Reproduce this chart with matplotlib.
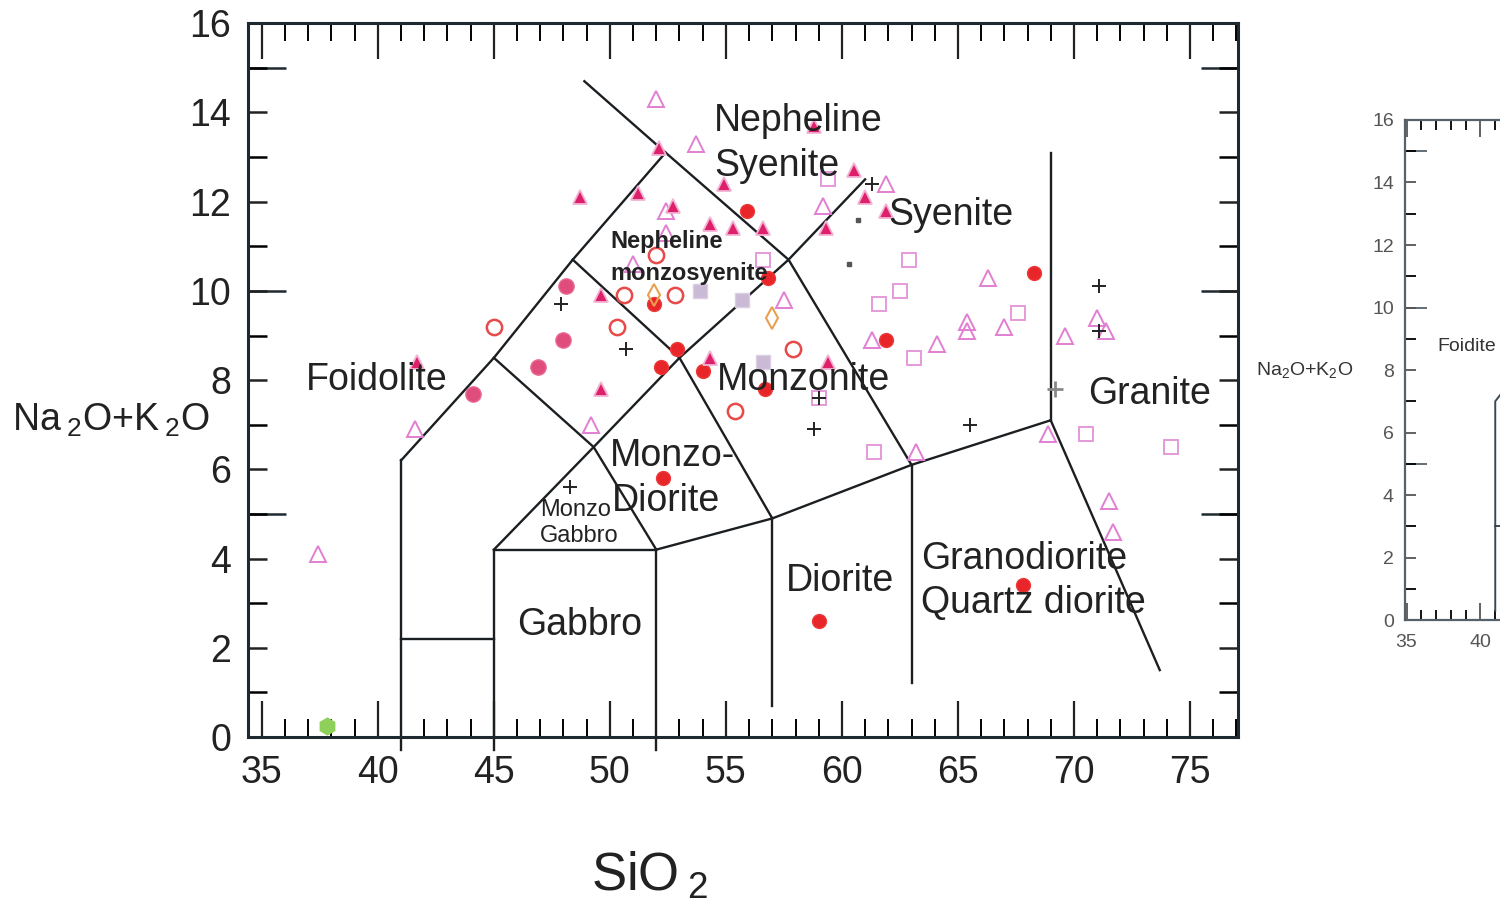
import matplotlib
matplotlib.use('Agg')
import matplotlib.pyplot as plt
from matplotlib.ticker import FixedLocator, MultipleLocator, NullFormatter

plt.rcParams['font.family'] = ['Liberation Sans', 'DejaVu Sans']
plt.rcParams['mathtext.default'] = 'regular'

# ---------------- data ----------------
x_ticks = [35, 40, 45, 50, 55, 60, 65, 70, 75]
y_ticks = [0, 2, 4, 6, 8, 10, 12, 14, 16]
y_long_ticks = [5, 10, 15]

# TAS field boundaries: (SiO2 list, Na2O+K2O list)
bound_xs = [
    [41, 41], [41, 45], [45, 45], [45, 52], [52, 52],
    [41, 45, 48.4, 52.4],
    [48.9, 52.4, 57.7, 63],
    [45, 49.3, 53, 57.7, 61],
    [45, 49.3, 52],
    [48.4, 53, 57],
    [52, 57, 63, 69],
    [57, 57], [63, 63], [69, 69], [69, 73.7],
]
bound_ys = [
    [-0.3, 6.2], [2.2, 2.2], [-0.3, 4.2], [4.2, 4.2], [-0.3, 4.2],
    [6.2, 8.5, 10.7, 13.1],
    [14.7, 13.1, 10.7, 6.1],
    [4.2, 6.5, 8.5, 10.7, 12.5],
    [8.5, 6.5, 4.2],
    [10.7, 8.5, 4.9],
    [4.2, 4.9, 6.1, 7.1],
    [4.9, 0.7], [6.1, 1.2], [7.1, 13.1], [7.1, 1.5],
]

# field names
big_labels = ['Nepheline', 'Syenite', 'Syenite', 'Foidolite', 'Monzonite',
              'Monzo-', 'Diorite', 'Gabbro', 'Diorite', 'Granodiorite',
              'Quartz diorite', 'Granite']
big_lx = [54.5, 54.5, 62.0, 36.9, 54.6, 50.0, 50.1, 46.0, 57.6, 63.4, 63.4, 70.6]
big_ly = [13.8, 12.8, 11.7, 8.0, 8.0, 6.3, 5.3, 2.5, 3.5, 4.0, 3.0, 7.7]
small_labels = ['Nepheline', 'monzosyenite', 'Monzo', 'Gabbro']
small_lx = [50.0, 50.0, 47.0, 47.0]
small_ly = [11.1, 10.4, 5.1, 4.5]
small_bold = [True, True, False, False]

# samples
tri_fill_x = [52.1, 48.7, 51.2, 52.7, 54.9, 54.3, 55.3, 56.6, 60.5, 59.3, 61.0, 61.9,
              58.8, 49.6, 54.3, 59.4, 49.6, 41.7]
tri_fill_y = [13.2, 12.1, 12.2, 11.9, 12.4, 11.5, 11.4, 11.4, 12.7, 11.4, 12.1, 11.8,
              13.7, 9.9, 8.5, 8.4, 7.8, 8.4]

tri_open_x = [52.0, 53.7, 61.9, 59.2, 52.4, 51.0, 52.4, 57.5, 49.2, 41.6, 37.4, 66.3,
              61.3, 64.1, 65.4, 65.4, 67.0, 69.6, 71.0, 71.4, 68.9, 63.2, 71.5, 71.7]
tri_open_y = [14.3, 13.3, 12.4, 11.9, 11.8, 10.6, 11.3, 9.8, 7.0, 6.9, 4.1, 10.3,
              8.9, 8.8, 9.3, 9.1, 9.2, 9.0, 9.4, 9.1, 6.8, 6.4, 5.3, 4.6]

sq_open_x = [59.4, 62.9, 62.5, 61.6, 63.1, 67.6, 70.5, 74.2, 61.4, 56.6, 59.0]
sq_open_y = [12.5, 10.7, 10.0, 9.7, 8.5, 9.5, 6.8, 6.5, 6.4, 10.7, 7.6]

sq_gray_x = [53.9, 55.7, 56.6]
sq_gray_y = [10.0, 9.8, 8.4]

circ_open_x = [52.0, 50.6, 52.8, 45.0, 50.3, 57.9, 55.4]
circ_open_y = [10.8, 9.9, 9.9, 9.2, 9.2, 8.7, 7.3]

red_x = [55.9, 56.8, 51.9, 52.9, 52.2, 54.0, 56.7, 52.3, 68.3, 61.9, 67.8, 59.0]
red_y = [11.8, 10.3, 9.7, 8.7, 8.3, 8.2, 7.8, 5.8, 10.4, 8.9, 3.4, 2.6]

pink_x = [48.1, 48.0, 46.9, 44.1]
pink_y = [10.1, 8.9, 8.3, 7.7]

plus_x = [61.3, 47.9, 50.7, 58.8, 48.3, 65.5, 71.1, 71.1, 59.0]
plus_y = [12.4, 9.7, 8.7, 6.9, 5.6, 7.0, 10.1, 9.1, 7.6]
plus_gray_x = [69.2]
plus_gray_y = [7.8]

dot_x = [60.7, 60.3]
dot_y = [11.6, 10.6]

dia_x = [57.0, 51.9]
dia_y = [9.4, 9.9]

green_x = [37.8]
green_y = [0.25]

# second (cropped) diagram
x2_ticks = [35, 40]
y2_ticks = [0, 2, 4, 6, 8, 10, 12, 14, 16]
bound2_xs = [[41, 41, 45], [41, 45]]
bound2_ys = [[0.3, 7.0, 9.4], [3.0, 3.0]]
label2 = 'Foidite'
label2_x, label2_y = 37.1, 8.75

# ---------------- figure ----------------
fig = plt.figure(figsize=(15, 9.07), dpi=100)
fig.patch.set_facecolor('white')

ax = fig.add_axes([0.1653, 0.1874, 0.66, 0.787])
ax.set_xlim(34.4, 77.07)
ax.set_ylim(0, 16)

line_c = '#1b1f22'
for xs, ys in zip(bound_xs, bound_ys):
    ax.plot(xs, ys, color=line_c, lw=1.7, zorder=2, clip_on=False,
            solid_joinstyle='miter')

ax.plot(tri_open_x, tri_open_y, '^', ms=11, mfc='none', mec='#e27fd2', mew=1.4, ls='none', zorder=3)
ax.plot(sq_open_x, sq_open_y, 's', ms=10, mfc='none', mec='#e59ad9', mew=1.4, ls='none', zorder=3)
ax.plot(sq_gray_x, sq_gray_y, 's', ms=10, mfc='#cbbad6', mec='#dccfe3', mew=1, ls='none', zorder=3)
ax.plot(circ_open_x, circ_open_y, 'o', ms=11, mfc='none', mec='#e84a4a', mew=1.8, ls='none', zorder=3)
ax.plot(pink_x, pink_y, 'o', ms=11, mfc='#e04c7c', mec='#e86a92', mew=1, ls='none', zorder=3)
ax.plot(red_x, red_y, 'o', ms=10, mfc='#e8262a', mec='#ec3a3a', mew=1, ls='none', zorder=3)
ax.plot(tri_fill_x, tri_fill_y, '^', ms=10, mfc='#de1f6a', mec='#f2b2d4', mew=1.3, ls='none', zorder=3)
ax.plot(dia_x, dia_y, 'd', ms=11, mfc='none', mec='#e8a050', mew=1.5, ls='none', zorder=3)
ax.plot(plus_x, plus_y, '+', ms=10, mew=1.4, color='#222222', ls='none', zorder=3)
ax.plot(plus_gray_x, plus_gray_y, '+', ms=11, mew=2, color='#888888', ls='none', zorder=3)
ax.plot(dot_x, dot_y, 's', ms=2.5, color='#555555', ls='none', zorder=3)
ax.plot(green_x, green_y, 'h', ms=12, color='#8fd05a', ls='none', zorder=3, clip_on=False)

for t, x, y in zip(big_labels, big_lx, big_ly):
    ax.text(x, y, t, fontsize=27, color='#222222', ha='left', va='center', zorder=4)
for t, x, y, b in zip(small_labels, small_lx, small_ly, small_bold):
    ax.text(x, y, t, fontsize=17, color='#222222', ha='left', va='center', zorder=4,
            fontweight='bold' if b else 'normal')

# axes styling
for s in ax.spines.values():
    s.set_linewidth(2.2)
    s.set_color('#1f2a30')

ax.xaxis.set_major_locator(FixedLocator(x_ticks))
ax.xaxis.set_minor_locator(MultipleLocator(1))
ax.set_xticklabels([str(v) for v in x_ticks])
ax.tick_params(axis='x', which='major', direction='in', length=26, width=1.6,
               top=True, bottom=True, labelsize=27, pad=13, colors='#222222')
ax.tick_params(axis='x', which='minor', direction='in', length=13, width=1.4,
               top=True, bottom=True)

ax.yaxis.set_major_locator(FixedLocator(y_ticks))
ax.yaxis.set_minor_locator(MultipleLocator(1))
ax.set_yticklabels([str(v) for v in y_ticks])
ax.tick_params(axis='y', which='major', direction='in', length=14, width=1.8,
               left=True, right=True, labelsize=27, pad=12, colors='#222222')
ax.tick_params(axis='y', which='minor', direction='in', length=14, width=1.8,
               left=True, right=True)

for side in ['left', 'right']:
    sec = ax.secondary_yaxis(side)
    sec.set_yticks(y_long_ticks)
    sec.yaxis.set_major_formatter(NullFormatter())
    sec.tick_params(direction='in', length=27, width=1.8, color='#1f2a30')
    sec.spines[side].set_visible(False)

ax.set_ylabel('Na$\\,_2$O+K$\\,_2$O', rotation=0, fontsize=27, ha='center', va='center', color='#222222')
ax.yaxis.set_label_coords(-0.139, 0.444)
ax.set_xlabel('SiO$\\,_2$', fontsize=38, ha='center', va='center', color='#222222')
ax.xaxis.set_label_coords(0.406, -0.195)

# ---------------- second, cropped diagram ----------------
ax2 = fig.add_axes([0.9367, 0.3164, 0.415, 0.5513])
ax2.set_xlim(34.9, 77)
ax2.set_ylim(0, 16)
for xs, ys in zip(bound2_xs, bound2_ys):
    ax2.plot(xs, ys, color='#3a4a55', lw=1.4)
ax2.text(label2_x, label2_y, label2, fontsize=14, color='#333333', ha='left', va='center')
for s in ax2.spines.values():
    s.set_linewidth(1.6)
    s.set_color('#55616b')
ax2.xaxis.set_major_locator(FixedLocator(x2_ticks))
ax2.xaxis.set_minor_locator(MultipleLocator(1))
ax2.set_xticklabels([str(v) for v in x2_ticks])
ax2.tick_params(axis='x', which='major', direction='in', length=12, width=1.3,
                top=True, labelsize=14, pad=10, colors='#555555')
ax2.tick_params(axis='x', which='minor', direction='in', length=7, width=1.3, top=True)
ax2.yaxis.set_major_locator(FixedLocator(y2_ticks))
ax2.yaxis.set_minor_locator(MultipleLocator(1))
ax2.set_yticklabels([str(v) for v in y2_ticks])
ax2.tick_params(axis='y', which='major', direction='in', length=8, width=1.3,
                labelsize=14, pad=8, colors='#555555')
ax2.tick_params(axis='y', which='minor', direction='in', length=8, width=1.3)
sec2 = ax2.secondary_yaxis('left')
sec2.set_yticks(y_long_ticks)
sec2.yaxis.set_major_formatter(NullFormatter())
sec2.tick_params(direction='in', length=16, width=1.3, color='#55616b')
sec2.spines['left'].set_visible(False)
ax2.set_ylabel('Na$_2$O+K$_2$O', rotation=0, fontsize=14, ha='center', va='center', color='#333333')
ax2.yaxis.set_label_coords(-0.162, 0.5)

fig.savefig('out.png', dpi=100, facecolor='white')
